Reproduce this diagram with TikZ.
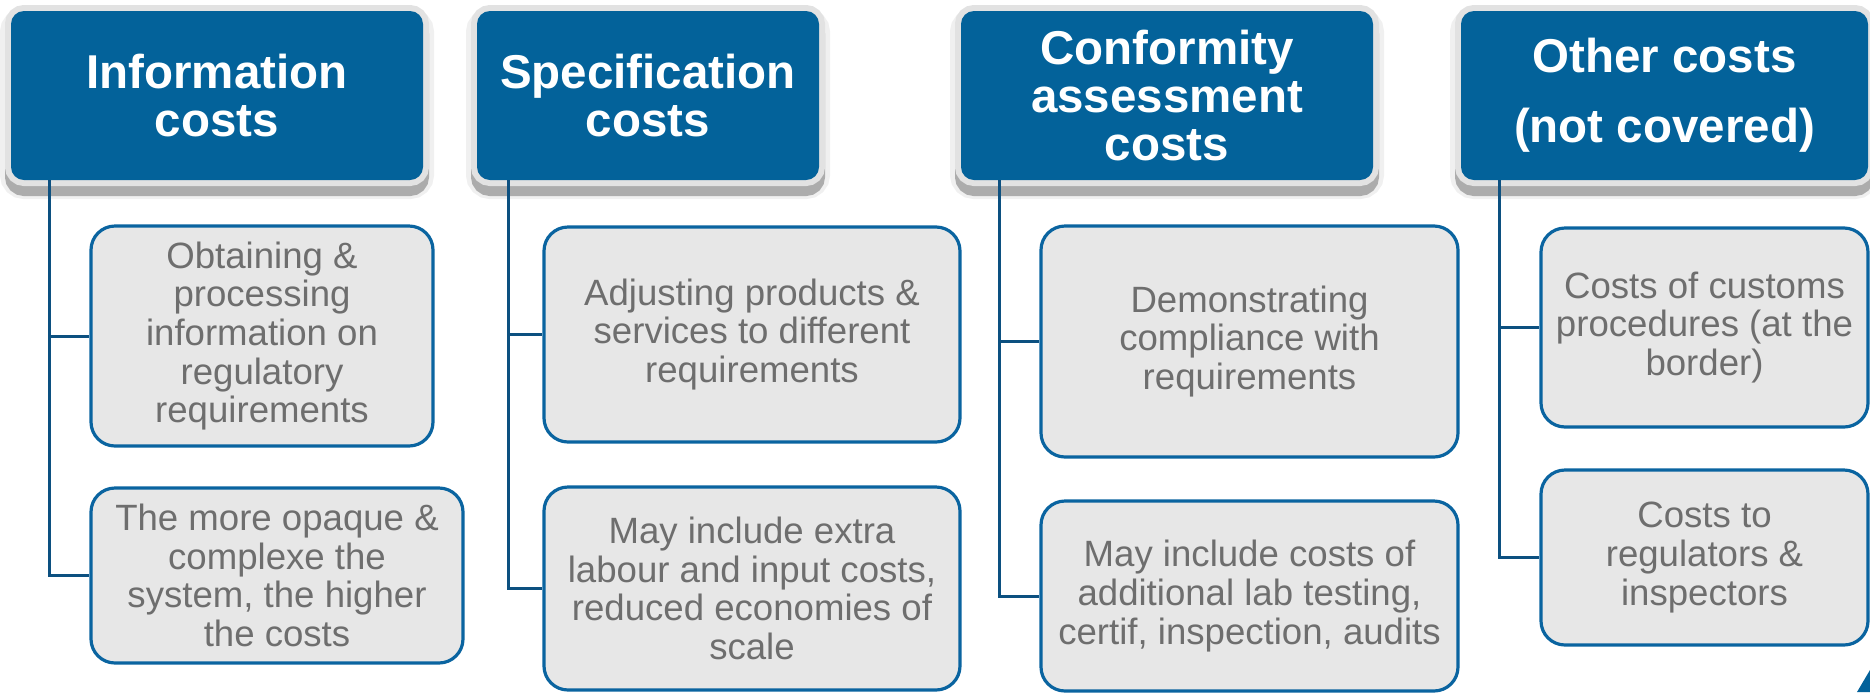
\documentclass[tikz,border=0pt]{standalone}
\usepackage{fontspec}
\setmainfont{Liberation Sans}
\definecolor{hdrblue}{RGB}{3,98,154}
\definecolor{boxblue}{RGB}{10,100,160}
\definecolor{connblue}{RGB}{12,80,128}
\definecolor{boxfill}{RGB}{231,231,231}
\definecolor{txtgray}{RGB}{110,110,110}
\definecolor{rimgray}{RGB}{226,226,226}
\definecolor{shadegray}{RGB}{172,172,172}
\definecolor{halogray}{RGB}{240,240,240}
\begin{document}
\begin{tikzpicture}[x=0.5pt,y=-0.5pt,
  headbox/.style={fill=hdrblue, rounded corners=6.5pt, inner sep=0pt,
    text=white, align=center,
    font=\bfseries\fontsize{23.75}{24}\selectfont,
    preaction={draw=halogray, line width=11pt, transform canvas={yshift=-4pt}},
    preaction={draw=shadegray, fill=shadegray, line width=6pt, transform canvas={yshift=-5pt}},
    preaction={draw=rimgray, line width=6pt}},
  itembox/.style={draw=boxblue, line width=1.6pt, fill=boxfill,
    rounded corners=12pt, inner sep=0pt, text=txtgray, align=center,
    font=\fontsize{18.3}{19.3}\selectfont},
  conn/.style={draw=connblue, line width=1.5pt}]
\path[use as bounding box, clip] (0,0) rectangle (1870,692);

% category headers
\node[headbox, minimum width=206pt, minimum height=84.5pt] (h1) at (217,95.5)
  {Information\\costs};
\node[headbox, minimum width=171pt, minimum height=84.5pt] (h2) at (648,95.5)
  {Specification\\costs};
\node[headbox, minimum width=206pt, minimum height=84.5pt] (h3) at (1167,95.5)
  {Conformity\\assessment\\costs};
\node[headbox, minimum width=203.5pt, minimum height=84.5pt,
  font=\bfseries\fontsize{23.75}{35}\selectfont] (h4) at (1664.5,95.5)
  {Other costs\\(not covered)};

% detail boxes
\node[itembox, minimum width=171pt, minimum height=110pt] (c11) at (262,336)
  {Obtaining \&\\processing\\information on\\regulatory\\requirements};
\node[itembox, minimum width=186pt, minimum height=87.5pt] (c12) at (277,575.5)
  {The more opaque \&\\complexe the\\system, the higher\\the costs};

\node[itembox, minimum width=208pt, minimum height=107.5pt] (c21) at (752,334.5)
  {Adjusting products \&\\services to different\\requirements};
\node[itembox, minimum width=208pt, minimum height=101.5pt] (c22) at (752,588.5)
  {May include extra\\labour and input costs,\\reduced economies of\\scale};

\node[itembox, minimum width=208.5pt, minimum height=115.5pt] (c31) at (1249.5,341.5)
  {Demonstrating\\compliance with\\requirements};
\node[itembox, minimum width=208.5pt, minimum height=95pt] (c32) at (1249.5,596)
  {May include costs of\\additional lab testing,\\certif, inspection, audits};

\node[itembox, minimum width=163.5pt, minimum height=99.5pt] (c41) at (1704.5,327.5)
  {Costs of customs\\procedures (at the\\border)};
\node[itembox, minimum width=163.5pt, minimum height=87.5pt] (c42) at (1704.5,557.5)
  {Costs to\\regulators \&\\inspectors};

% connectors
\draw[conn] (h1.south west) ++(39,0) |- (c11.west);
\draw[conn] (h1.south west) ++(39,0) |- (c12.west);
\draw[conn] (h2.south west) ++(32,0) |- (c21.west);
\draw[conn] (h2.south west) ++(32,0) |- (c22.west);
\draw[conn] (h3.south west) ++(39,0) |- (c31.west);
\draw[conn] (h3.south west) ++(39,0) |- (c32.west);
\draw[conn] (h4.south west) ++(39,0) |- (c41.west);
\draw[conn] (h4.south west) ++(39,0) |- (c42.west);

% corner accent
\fill[hdrblue] (1857,692) -- (1870,670) -- (1870,692) -- cycle;
\end{tikzpicture}
\end{document}
